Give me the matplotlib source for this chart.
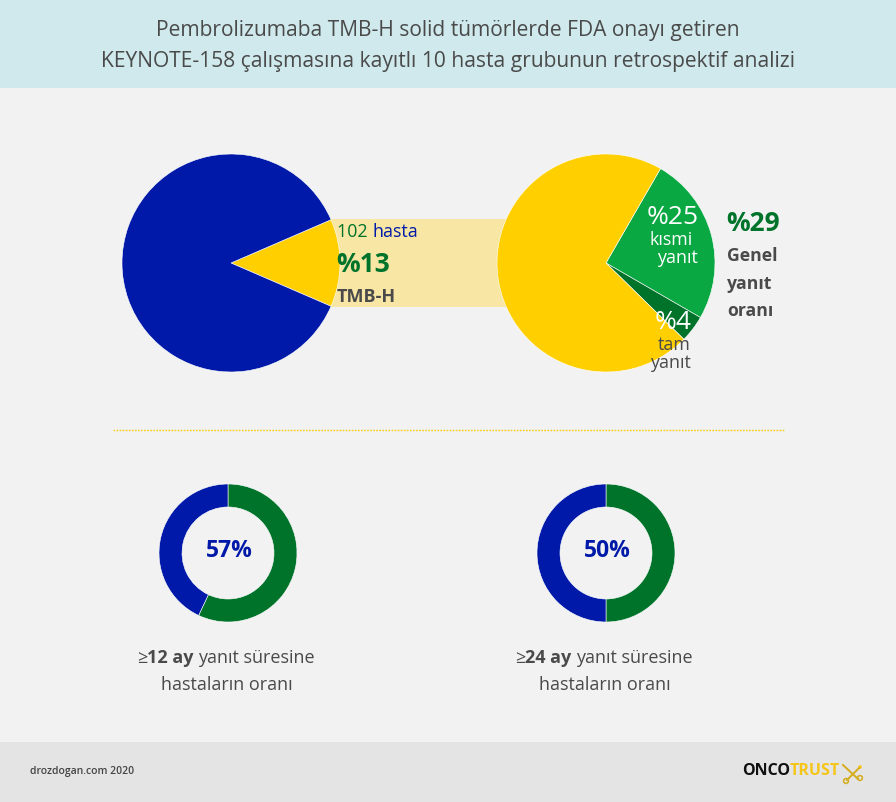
import matplotlib
matplotlib.use('Agg')
import matplotlib.pyplot as plt
from matplotlib.patches import Rectangle, Circle

W, H = 896, 802
plt.rcParams['font.family'] = ['Open Sans', 'DejaVu Sans']

# data
tmb_share = [13, 87]
response_share = [25, 4, 71]
donut_left = [57, 43]
donut_right = [50, 50]
title_lines = ["Pembrolizumaba TMB-H solid tümörlerde FDA onayı getiren",
               "KEYNOTE-158 çalışmasına kayıtlı 10 hasta grubunun retrospektif analizi"]

BLUE = '#0019a8'
YELLOW = '#ffcf00'
GREEN = '#0aa843'
DARK_GREEN = '#00732b'
GREY = '#4a4a4a'
SCISSORS = '#d4ac1c'

fig = plt.figure(figsize=(W / 100, H / 100), dpi=100, facecolor='#f2f2f2')
bg = fig.add_axes([0, 0, 1, 1])
bg.set_xlim(0, W)
bg.set_ylim(H, 0)
bg.axis('off')

bg.add_patch(Rectangle((0, 0), W, 88, color='#cfe9ec', lw=0))
bg.add_patch(Rectangle((0, 742), W, 60, color='#e4e4e4', lw=0))
bg.add_patch(Rectangle((331, 219), 180, 88, color='#f7e6a4', lw=0))
bg.plot([113, 784], [429.5, 429.5], color='#f5cc10', lw=1.0, ls=(0, (1.2, 1.0)))


def txt(x, y, s, size, color=GREY, weight='normal', ha='left', zorder=5):
    # va center sits a bit high for this font, hence the 1.7
    return bg.text(x, y + 1.7, s, fontsize=size, color=color, fontweight=weight,
                   ha=ha, va='center', zorder=zorder)


def runs(x, y, parts, size):
    # several text pieces one after another on the same line
    r = fig.canvas.get_renderer()
    for s, color, weight in parts:
        t = txt(x, y, s, size, color, weight)
        x += t.get_window_extent(r).width
    return x


def pie_at(cx, cy, radius, values, colors, start, width=None):
    ax = fig.add_axes([(cx - radius - 1) / W, 1 - (cy + radius + 1) / H,
                       (2 * radius + 2) / W, (2 * radius + 2) / H], zorder=2)
    wedgeprops = {'edgecolor': 'white', 'linewidth': 0.4}
    if width:
        wedgeprops['width'] = width
    ax.pie(values, colors=colors, startangle=start, counterclock=False,
           radius=1, wedgeprops=wedgeprops)
    ax.set_xlim(-(radius + 1) / radius, (radius + 1) / radius)
    ax.set_ylim(-(radius + 1) / radius, (radius + 1) / radius)
    ax.patch.set_visible(False)
    return ax


# header
txt(448, 29, title_lines[0], 15.15, ha='center')
txt(448, 60, title_lines[1], 15.15, ha='center')

# pies
pie_at(231, 263, 109, tmb_share, [YELLOW, BLUE], 23.4)
pie_at(606, 263, 109, response_share, [GREEN, DARK_GREEN, YELLOW], 60)
pie_at(228, 553, 69, donut_left, [DARK_GREEN, BLUE], 90, width=23 / 69)
pie_at(606, 553, 69, donut_right, [DARK_GREEN, BLUE], 90, width=23 / 69)

# text over the pies goes in an axes on top
top = fig.add_axes([0, 0, 1, 1], zorder=5)
top.set_xlim(0, W)
top.set_ylim(H, 0)
top.axis('off')
bg = top

runs(337, 230, [("102 ", DARK_GREEN, 'normal'), ("hasta", BLUE, 'normal')], 12.9)
txt(336.5, 263, "%13", 19, DARK_GREEN, 'bold')
txt(337, 295, "TMB-H", 13, GREY, 'bold')

txt(672.5, 216, "%25", 19, 'white', ha='center')
txt(671.5, 238, "kısmi", 12.9, 'white', ha='center')
txt(698, 256, "yanıt", 12.9, 'white', ha='right')
txt(673, 321, "%4", 19, 'white', ha='center')
txt(674.5, 343, "tam", 12.9, ha='center')
txt(691, 361, "yanıt", 12.9, ha='right')

txt(726.5, 222, "%29", 19, DARK_GREEN, 'bold')
txt(727, 254, "Genel", 12.7, GREY, 'bold')
txt(727, 282, "yanıt", 12.7, GREY, 'bold')
txt(727, 309, "oranı", 12.7, GREY, 'bold')

txt(229, 549, "57%", 16.5, BLUE, 'bold', ha='center')
txt(607, 549, "50%", 16.5, BLUE, 'bold', ha='center')

runs(137, 656, [("≥", GREY, 'normal'), ("12 ay ", GREY, 'bold'), ("yanıt süresine", GREY, 'normal')], 13)
txt(226.5, 683, "hastaların oranı", 13, ha='center')
runs(515, 656, [("≥", GREY, 'normal'), ("24 ay ", GREY, 'bold'), ("yanıt süresine", GREY, 'normal')], 13)
txt(604.5, 683, "hastaların oranı", 13, ha='center')

# footer
txt(30, 770, "drozdogan.com 2020", 7.45, '#444444', 'semibold')
runs(742, 769, [("ONCO", '#111111', 'bold'), ("TRUST", '#f5c518', 'bold')], 11.5)

# scissors next to the logo
for x0, y0, x1, y1 in [(843, 765, 858, 779), (859, 768, 847, 780)]:
    top.plot([x0, x1], [y0, y1], color=SCISSORS, lw=1.4)
top.add_patch(Circle((860, 778), 2.4, fc='none', ec=SCISSORS, lw=1.1))
top.add_patch(Circle((846, 781), 2.4, fc='none', ec=SCISSORS, lw=1.1))
top.add_patch(Circle((860, 767), 1.8, fc='#f5c518', ec='none'))

fig.savefig('out.png', dpi=100, facecolor=fig.get_facecolor())
